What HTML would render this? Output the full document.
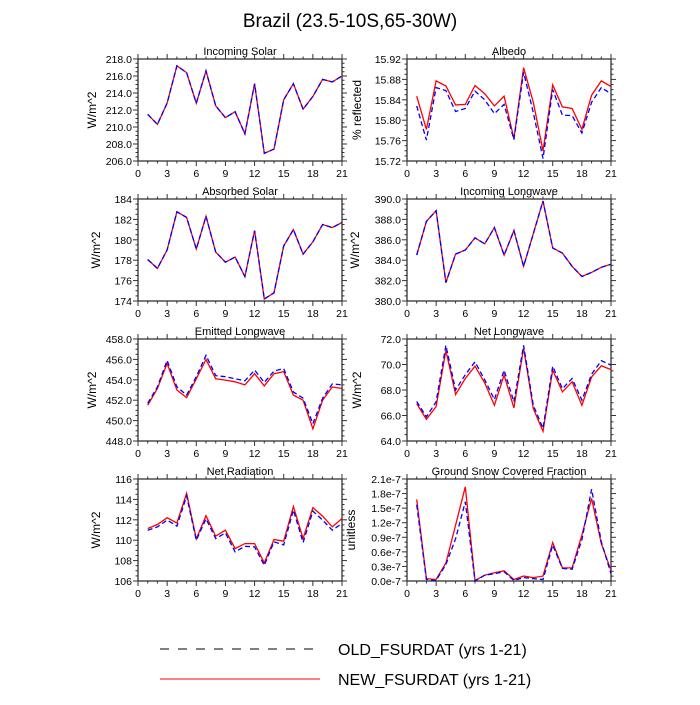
<!DOCTYPE html>
<html><head><meta charset="utf-8"><style>
body{margin:0;background:#fff;width:700px;height:700px;overflow:hidden;font-family:"Liberation Sans",sans-serif}
</style></head><body>
<svg id="c" width="700" height="700" xmlns="http://www.w3.org/2000/svg" font-family="Liberation Sans, sans-serif">
<text x="350" y="27" text-anchor="middle" font-size="19">Brazil (23.5-10S,65-30W)</text>
<g>
<line x1="160" y1="649" x2="320" y2="649" stroke="#000" stroke-width="1" stroke-dasharray="9,9"/>
<text x="338" y="655" font-size="16">OLD_FSURDAT (yrs 1-21)</text>
<line x1="160" y1="679" x2="320" y2="679" stroke="#f00" stroke-width="1"/>
<text x="338" y="685" font-size="16">NEW_FSURDAT (yrs 1-21)</text>
</g>
</svg>
<script>
const years=[1,2,3,4,5,6,7,8,9,10,11,12,13,14,15,16,17,18,19,20,21];
const xTicks=[0,3,6,9,12,15,18,21];
const solarNew=[211.5,210.3,212.8,217.2,216.4,212.8,216.6,212.5,211.1,211.8,209.2,215.1,206.9,207.4,213.2,215.1,212.1,213.6,215.6,215.3,216.0];
const solarOld=solarNew.slice();
const albedoNew=[15.847,15.782,15.877,15.867,15.830,15.831,15.868,15.852,15.828,15.847,15.764,15.903,15.835,15.740,15.869,15.826,15.823,15.782,15.849,15.877,15.866];
const albedoOld=[15.828,15.761,15.864,15.858,15.817,15.823,15.857,15.840,15.813,15.831,15.762,15.894,15.815,15.725,15.860,15.810,15.809,15.775,15.835,15.864,15.852];
const absNew=[178.07,177.2,179.0,182.75,182.2,179.1,182.3,178.8,177.8,178.3,176.4,180.9,174.2,174.8,179.4,181.0,178.6,179.8,181.5,181.2,181.7];
const absOld=absNew.slice();
const ilwNew=[384.5,387.8,388.85,381.8,384.6,385.0,386.2,385.6,387.2,384.5,386.9,383.4,386.6,389.8,385.2,384.7,383.4,382.4,382.8,383.3,383.6];
const ilwOld=ilwNew.slice();
const elwNew=[451.5,453.15,455.6,453.0,452.25,454.1,456.0,454.1,453.97,453.8,453.5,454.6,453.4,454.6,454.8,452.5,452.0,449.2,452.0,453.3,453.15];
const elwOld=[451.7,453.3,455.9,453.3,452.5,454.3,456.4,454.4,454.3,454.1,453.9,454.95,453.75,454.85,455.1,452.8,452.2,449.7,452.2,453.6,453.5];
const nlwNew=[66.93,65.7,66.7,71.1,67.65,68.9,69.87,68.56,66.8,69.17,66.6,71.3,66.54,64.76,69.56,67.85,68.64,66.8,69.03,69.9,69.6];
const nlwOld=[67.1,65.9,67.07,71.5,68.0,69.2,70.2,68.8,67.25,69.56,67.07,71.5,66.8,65.0,69.87,68.1,68.9,67.2,69.24,70.3,69.95];
const netNew=[111.15,111.54,112.2,111.7,114.6,110.13,112.4,110.4,110.98,109.18,109.67,109.67,107.77,110.07,109.9,113.3,110.16,113.2,112.36,111.3,112.13];
const netOld=[110.98,111.3,111.97,111.38,114.33,110.0,112.1,110.16,110.72,108.85,109.4,109.34,107.54,109.84,109.54,112.95,109.77,112.85,111.97,110.98,111.64];
const snowNew=[1.68,0.05,0.03,0.37,1.15,1.94,0.01,0.12,0.17,0.21,0.03,0.10,0.07,0.10,0.79,0.27,0.27,0.95,1.70,0.77,0.22];
const snowOld=[1.57,0.03,0.01,0.34,0.87,1.63,0.0,0.12,0.15,0.19,0.01,0.07,0.05,0.03,0.74,0.26,0.24,0.85,1.89,0.81,0.15];
const ticksSolar=[206,208,210,212,214,216,218];
const ticksAlb=[15.72,15.76,15.80,15.84,15.88,15.92];
const ticksAbs=[174,176,178,180,182,184];
const ticksIlw=[380,382,384,386,388,390];
const ticksElw=[448,450,452,454,456,458];
const ticksNlw=[64,66,68,70,72];
const ticksNet=[106,108,110,112,114,116];
const ticksSnow=[0,0.3,0.6,0.9,1.2,1.5,1.8,2.1];

const svg=document.getElementById('c');
const NS='http://www.w3.org/2000/svg';
function mk(tag,attrs,parent){const e=document.createElementNS(NS,tag);for(const k in attrs)e.setAttribute(k,attrs[k]);(parent||svg).appendChild(e);return e;}

function panel(key,title,ylab,L,T,ticks,fmt,minorN,oldV,newV,labOff){
  const W=204,H=102,R=L+W,B=T+H;
  const ymin=ticks[0],ymax=ticks[ticks.length-1];
  const sx=v=>L+(v-0)/21*W;
  const sy=v=>B-(v-ymin)/(ymax-ymin)*H;
  const g=mk('g',{});
  
  
  const t=mk('text',{x:(L+R)/2,y:T-4,'text-anchor':'middle','font-size':'11'},g);t.textContent=title;
  
  
  const yl=mk('text',{x:0,y:0,'text-anchor':'middle','font-size':'12',transform:`translate(${L-labOff},${(T+B)/2}) rotate(-90)`},g);yl.textContent=ylab;
  
  
  const tk=mk('g',{stroke:'#333','stroke-width':'1'},g);
  
  
  for(let i=0;i<=21;i++){const x=sx(i);const maj=i%3===0;const len=maj?5:2.5;
    mk('line',{x1:x,y1:B,x2:x,y2:B+len},tk);mk('line',{x1:x,y1:T,x2:x,y2:T-len},tk);}
  xTicks.forEach(v=>{const tx=mk('text',{x:sx(v),y:B+16,'text-anchor':'middle','font-size':'10.5',fill:'#000'},g);tx.textContent=v;
    
    });
  for(let i=0;i<ticks.length;i++){const y=sy(ticks[i]);
    mk('line',{x1:L,y1:y,x2:L-5,y2:y},tk);mk('line',{x1:R,y1:y,x2:R+5,y2:y},tk);
    const ty=mk('text',{x:L-6,y:y+4,'text-anchor':'end','font-size':'10.5',fill:'#000'},g);ty.textContent=fmt(ticks[i]);
    
    
    if(i<ticks.length-1){for(let m=1;m<minorN;m++){const yy=sy(ticks[i]+(ticks[i+1]-ticks[i])*m/minorN);
      mk('line',{x1:L,y1:yy,x2:L-2.5,y2:yy},tk);mk('line',{x1:R,y1:yy,x2:R+2.5,y2:yy},tk);}}}
  const fr=mk('rect',{x:L,y:T,width:W,height:H,fill:'none',stroke:'#333','stroke-width':'1.3'},g);
  
  
  const pts=a=>a.map((v,i)=>sx(years[i]).toFixed(1)+','+sy(v).toFixed(1)).join(' ');
  const ln=mk('polyline',{points:pts(newV),fill:'none',stroke:'#f00','stroke-width':'1.3'},g);
  
  
  const lo=mk('polyline',{points:pts(oldV),fill:'none',stroke:'#00f','stroke-width':'1.3','stroke-dasharray':'5,3'},g);
  
  
}
const f1=v=>v.toFixed(1),f2=v=>v.toFixed(2),f0=v=>v.toFixed(0),fe=v=>v.toFixed(1)+'e-7';
const XL=138,XR=407;
panel('incoming-solar','Incoming Solar','W/m^2',XL,59,ticksSolar,f1,4,solarOld,solarNew,42);
panel('albedo','Albedo','% reflected',XR,59,ticksAlb,f2,4,albedoOld,albedoNew,46);
panel('absorbed-solar','Absorbed Solar','W/m^2',XL,199,ticksAbs,f0,4,absOld,absNew,38);
panel('incoming-longwave','Incoming Longwave','W/m^2',XR,199,ticksIlw,f1,4,ilwOld,ilwNew,48);
panel('emitted-longwave','Emitted Longwave','W/m^2',XL,339,ticksElw,f1,4,elwOld,elwNew,42);
panel('net-longwave','Net Longwave','W/m^2',XR,339,ticksNlw,f1,4,nlwOld,nlwNew,46);
panel('net-radiation','Net Radiation','W/m^2',XL,479,ticksNet,f0,4,netOld,netNew,38);
panel('snow-fraction','Ground Snow Covered Fraction','unitless',XR,479,ticksSnow,fe,3,snowOld,snowNew,52);
</script>
</body></html>
